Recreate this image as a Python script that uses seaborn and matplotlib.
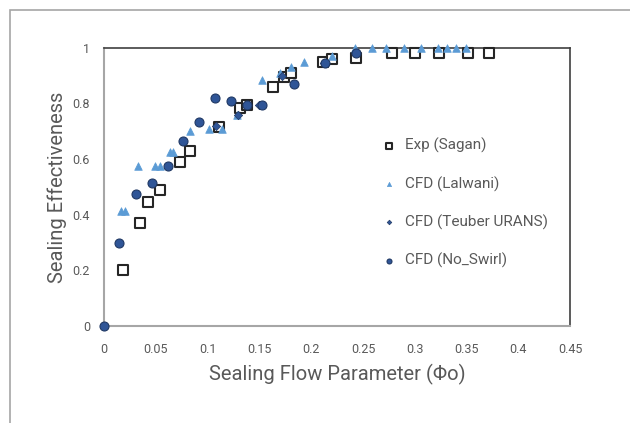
import numpy as np
import matplotlib
matplotlib.use("Agg")
import matplotlib.pyplot as plt
import seaborn as sns
import pandas as pd
from matplotlib.patches import Rectangle
from matplotlib.ticker import FuncFormatter

# Exp (Sagan)
sagan_x = [0.018, 0.035, 0.043, 0.054, 0.073, 0.083, 0.111, 0.131, 0.138, 0.163,
           0.174, 0.181, 0.211, 0.220, 0.243, 0.278, 0.300, 0.323, 0.351, 0.372]
sagan_y = [0.20, 0.37, 0.445, 0.49, 0.59, 0.63, 0.715, 0.785, 0.795, 0.86,
           0.895, 0.91, 0.95, 0.96, 0.965, 0.98, 0.98, 0.98, 0.98, 0.98]

# CFD (Lalwani)
lalwani_x = [0.016, 0.020, 0.033, 0.049, 0.054, 0.064, 0.067, 0.083, 0.101, 0.114,
             0.128, 0.153, 0.170, 0.181, 0.193, 0.220, 0.242, 0.259, 0.272, 0.290,
             0.306, 0.322, 0.331, 0.340, 0.349]
lalwani_y = [0.415, 0.415, 0.576, 0.576, 0.576, 0.625, 0.625, 0.70, 0.71, 0.71,
             0.76, 0.885, 0.91, 0.93, 0.95, 0.97, 1.0, 1.0, 1.0, 1.0,
             1.0, 1.0, 1.0, 1.0, 1.0]

# CFD (Teuber URANS)
teuber_x = [0.108, 0.129, 0.150, 0.172, 0.212]
teuber_y = [0.72, 0.76, 0.795, 0.90, 0.945]

# CFD (No_Swirl)
noswirl_x = [0.0, 0.015, 0.031, 0.046, 0.062, 0.076, 0.092, 0.107, 0.123, 0.138,
             0.153, 0.183, 0.213, 0.243]
noswirl_y = [0.0, 0.30, 0.475, 0.515, 0.575, 0.665, 0.735, 0.82, 0.81, 0.795,
             0.795, 0.87, 0.946, 0.98]

x_ticks = [0, 0.05, 0.1, 0.15, 0.2, 0.25, 0.3, 0.35, 0.4, 0.45]
y_ticks = [0, 0.2, 0.4, 0.6, 0.8, 1]

sns.set_style("white")
plt.rcParams["font.family"] = ["Roboto", "DejaVu Sans"]

fig = plt.figure(figsize=(6.3, 4.23), dpi=100)
ax = fig.add_axes([0.165, 0.229, 0.74, 0.658])

# outer chart frame
fig.patches.append(Rectangle((10 / 630, -0.1), 1.2, 1 - 10 / 423 + 0.1,
                             transform=fig.transFigure, fill=False,
                             edgecolor="#a6a6a6", linewidth=1.2))

sns.scatterplot(x=sagan_x, y=sagan_y, marker="s", s=50, color="white",
                edgecolor="#262626", linewidth=1.5, ax=ax, label="Exp (Sagan)",
                clip_on=False, zorder=3)
sns.scatterplot(x=lalwani_x, y=lalwani_y, marker="^", s=30, color="#5b9bd5",
                edgecolor="#5b9bd5", linewidth=0.5, ax=ax, label="CFD (Lalwani)",
                clip_on=False, zorder=4)
sns.scatterplot(x=teuber_x, y=teuber_y, marker="D", s=18, color="#2f5597",
                edgecolor="#203864", linewidth=0.5, ax=ax, label="CFD (Teuber URANS)",
                clip_on=False, zorder=5)
sns.scatterplot(x=noswirl_x, y=noswirl_y, marker="o", s=42, color="#2f5597",
                edgecolor="#1f3864", linewidth=0.8, ax=ax, label="CFD (No_Swirl)",
                clip_on=False, zorder=6)

ax.set_xlim(0, 0.45)
ax.set_ylim(0, 1)
ax.set_xticks(x_ticks)
ax.set_yticks(y_ticks)
ax.xaxis.set_major_formatter(FuncFormatter(lambda v, p: "%g" % round(v, 3)))
ax.yaxis.set_major_formatter(FuncFormatter(lambda v, p: "%g" % round(v, 3)))
ax.tick_params(axis="both", colors="#a6a6a6", labelcolor="#595959",
               labelsize=9, length=4, width=1, direction="out")
ax.tick_params(axis="x", pad=8)
ax.tick_params(axis="y", pad=6)

for side in ["left", "bottom"]:
    ax.spines[side].set_color("#a6a6a6")
    ax.spines[side].set_linewidth(1.5)
for side in ["top", "right"]:
    ax.spines[side].set_color("#404040")
    ax.spines[side].set_linewidth(1.2)

ax.set_xlabel("Sealing Flow Parameter (Φo)", fontsize=14.5, color="#595959", labelpad=6)
ax.set_ylabel("Sealing Effectiveness", fontsize=14.5, color="#595959", labelpad=4)

leg = ax.legend(loc="upper left", bbox_to_anchor=(0.55, 0.725), frameon=False,
                fontsize=11, labelspacing=1.5, handletextpad=0.05,
                markerscale=0.55, labelcolor="#595959")

fig.savefig("out.png", dpi=100)
